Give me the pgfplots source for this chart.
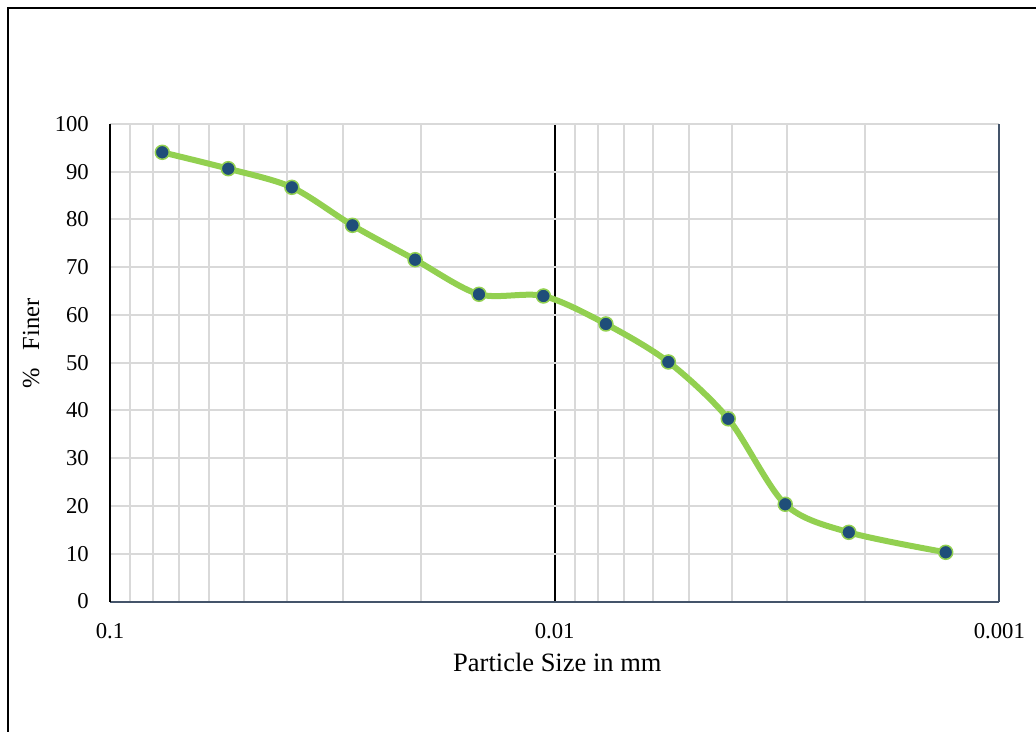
\documentclass[border=0pt]{standalone}
\usepackage{fontspec}
\setmainfont{Liberation Serif}
\usepackage{pgfplots}
\pgfplotsset{compat=1.18}
\definecolor{lgreen}{HTML}{92D050}
\definecolor{dblue}{HTML}{1F4E79}
\definecolor{gridgray}{HTML}{D9D9D9}
\definecolor{axisgray}{HTML}{44546A}
\begin{document}
\begin{tikzpicture}[x=1pt,y=1pt]
\begin{axis}[
  at={(0pt,0pt)}, anchor=south west,
  scale only axis, width=889.3pt, height=477.5pt,
  xmode=log, x dir=reverse,
  xmin=0.001, xmax=0.1, ymin=0, ymax=100,
  xtick={0.1,0.01,0.001}, xticklabels={0.1,0.01,0.001},
  minor xtick={0.09,0.08,0.07,0.06,0.05,0.04,0.03,0.02,0.009,0.008,0.007,0.006,0.005,0.004,0.003,0.002},
  ytick={0,10,...,100},
  major tick length=0pt, minor tick length=0pt,
  xmajorgrids, xminorgrids, ymajorgrids,
  major x grid style={black, line width=2pt},
  minor x grid style={gridgray, line width=2pt},
  major y grid style={gridgray, line width=2pt},
  axis line style={draw=none},
  /pgf/number format/assume math mode=true,
  tick label style={font=\fontsize{22.7}{27}\selectfont, inner sep=0pt},
  xticklabel style={anchor=base, yshift=-36.5pt},
  yticklabel style={anchor=east, xshift=-21pt},
  label style={inner sep=0pt},
  xlabel={Particle Size in mm},
  xlabel style={font=\fontsize{26.5}{31}\selectfont, at={(axis description cs:0.503,0)}, anchor=base, yshift=-70pt},
  ylabel={\%\ \ \ Finer},
  ylabel style={font=\fontsize{24.5}{29}\selectfont, at={(axis description cs:-0.0798,0.54)}, anchor=base},
  clip=false,
]
\draw[gridgray, line width=2pt] (axis description cs:0,1) -- (axis description cs:1,1);
\draw[axisgray, line width=2pt] (axis description cs:0,0) -- (axis description cs:1,0);
\draw[axisgray, line width=2pt] (axis description cs:1,0) -- (axis description cs:1,1);
\draw[black, line width=2pt] (axis description cs:0,0) -- (axis description cs:0,1);
\addplot[lgreen, line width=6pt, smooth, tension=0.5,
  mark=*, mark size=7pt,
  mark options={fill=dblue, draw=lgreen, line width=1.5pt}]
coordinates {
(0.0763,94.07)
(0.0542,90.64)
(0.0390,86.74)
(0.0285,78.78)
(0.0206,71.58)
(0.0148,64.34)
(0.0106,63.98)
(0.00767,58.12)
(0.00555,50.16)
(0.00407,38.26)
(0.00303,20.36)
(0.00218,14.49)
(0.00132,10.30)
};
\end{axis}
\draw[black, line width=2pt] (-102pt,-140pt) -- (-102pt,593.5pt) -- (940pt,593.5pt);
\pgfresetboundingbox
\useasboundingbox (-110pt,-129.5pt) rectangle (926pt,601.5pt);
\end{tikzpicture}
\end{document}
